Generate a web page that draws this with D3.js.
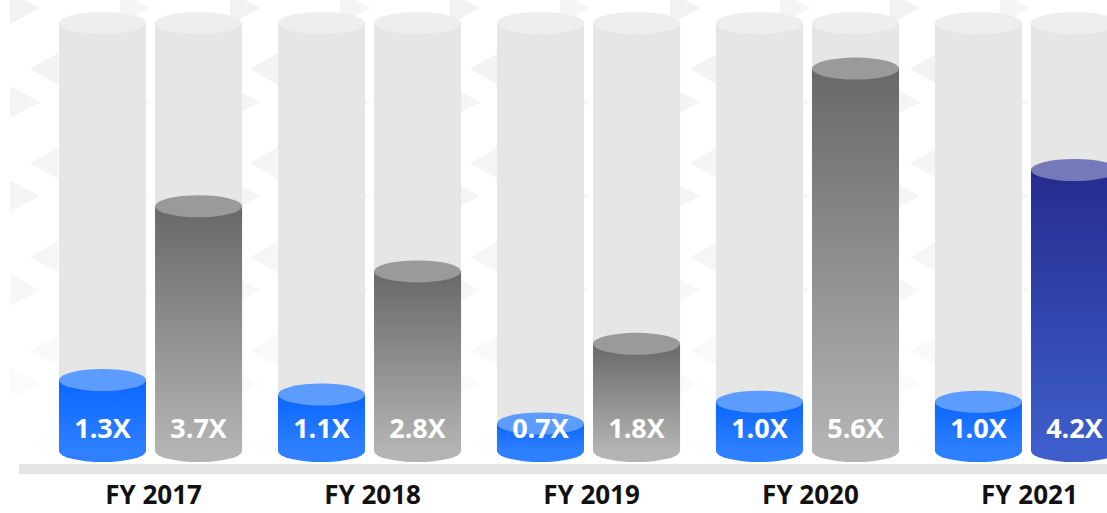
<!DOCTYPE html>
<html>
<head>
<meta charset="utf-8">
<script src="https://cdn.jsdelivr.net/npm/d3@7.9.0/dist/d3.min.js"></script>
<style>
  html, body { margin: 0; padding: 0; background: #fff; }
  svg { display: block; font-family: 'Open Sans', sans-serif; }
</style>
</head>
<body>
<div id="chart"></div>
<script>
// Data
const years = ['FY 2017', 'FY 2018', 'FY 2019', 'FY 2020', 'FY 2021'];
const coverageA = [1.3, 1.1, 0.7, 1.0, 1.0];   // blue cylinders
const coverageB = [3.7, 2.8, 1.8, 5.6, 4.2];   // gray cylinders (last one highlighted)
const series = ['a', 'b'];

const width = 1107;
const height = 513;
const baseY = 451;     // centre of bottom ellipse
const topY = 23;       // centre of top ellipse of the empty tubes
const ry = 11;

const svg = d3.select('#chart').append('svg')
  .attr('width', width)
  .attr('height', height);

const defs = svg.append('defs');

// faint background chevron pattern
const pat = defs.append('pattern')
  .attr('id', 'chev')
  .attr('patternUnits', 'userSpaceOnUse')
  .attr('width', 220).attr('height', 94)
  .attr('x', -4).attr('y', -88);
pat.append('path').attr('d', 'M14,80 L44,96 L14,112 Z M14,-14 L44,2 L14,18 Z').attr('fill', '#f2f2f2');
pat.append('path').attr('d', 'M62,47 L34,63 L62,79 Z M62,-47 L34,-31 L62,-15 Z').attr('fill', '#f2f2f2');
pat.append('path').attr('d', 'M124,80 L154,96 L124,112 Z M124,-14 L154,2 L124,18 Z').attr('fill', '#f5f5f5');

const fade = defs.append('linearGradient').attr('id', 'fadeGrad')
  .attr('x1', 0).attr('y1', 0).attr('x2', 0).attr('y2', 1);
fade.append('stop').attr('offset', 0).attr('stop-color', '#fff');
fade.append('stop').attr('offset', 0.6).attr('stop-color', '#999');
fade.append('stop').attr('offset', 0.9).attr('stop-color', '#000');
defs.append('mask').attr('id', 'fadeMask')
  .append('rect').attr('width', width).attr('height', height).attr('fill', 'url(#fadeGrad)');

svg.append('rect')
  .attr('width', width).attr('height', height)
  .attr('fill', 'url(#chev)')
  .attr('mask', 'url(#fadeMask)');

// gradients for the cylinders
function vGrad(id, top, bottom) {
  const g = defs.append('linearGradient').attr('id', id)
    .attr('x1', 0).attr('y1', 0).attr('x2', 0).attr('y2', 1);
  g.append('stop').attr('offset', 0).attr('stop-color', top);
  g.append('stop').attr('offset', 1).attr('stop-color', bottom);
}
vGrad('blueBody', '#0a66ff', '#2e80ff');
vGrad('grayBody', '#686868', '#b4b4b4');
vGrad('navyBody', '#262b8e', '#3d5ecb');

const styles = {
  a: { body: 'url(#blueBody)', top: '#5c9cff', bottom: '#2e80ff' },
  b: { body: 'url(#grayBody)', top: '#9a9a9a', bottom: '#b4b4b4' },
  hi: { body: 'url(#navyBody)', top: '#7579ba', bottom: '#3d5ecb' }
};

// scales
const x0 = d3.scaleBand()
  .domain(years)
  .range([59, 1118])
  .paddingInner(0.164)
  .paddingOuter(0);

const x1 = d3.scaleBand()
  .domain(series)
  .range([0, x0.bandwidth()])
  .paddingInner(0.094);

const y = d3.scaleLinear()
  .domain([0.32, 6.23])
  .range([baseY, topY]);

const rows = years.map((year, i) => ({
  year,
  bars: [
    { key: 'a', value: coverageA[i], style: styles.a },
    { key: 'b', value: coverageB[i], style: i === years.length - 1 ? styles.hi : styles.b }
  ]
}));

// platform
svg.append('rect')
  .attr('x', 19).attr('y', 464)
  .attr('width', width - 19).attr('height', 10)
  .attr('fill', '#e4e4e4');

const groups = svg.selectAll('g.year')
  .data(rows)
  .join('g')
  .attr('class', 'year')
  .attr('transform', d => `translate(${x0(d.year)},0)`);

const bars = groups.selectAll('g.bar')
  .data(d => d.bars)
  .join('g')
  .attr('class', 'bar')
  .attr('transform', d => `translate(${x1(d.key)},0)`);

const w = x1.bandwidth();
const yMax = y.domain()[1];

// empty tube
bars.append('rect')
  .attr('x', 0).attr('width', w)
  .attr('y', y(yMax)).attr('height', baseY - y(yMax))
  .attr('fill', '#e6e6e6');
bars.append('ellipse')
  .attr('cx', w / 2).attr('cy', y(yMax))
  .attr('rx', w / 2).attr('ry', ry)
  .attr('fill', '#eeeeee');

// filled cylinder
bars.append('ellipse')
  .attr('cx', w / 2).attr('cy', baseY)
  .attr('rx', w / 2).attr('ry', ry)
  .attr('fill', d => d.style.bottom);
bars.append('rect')
  .attr('x', 0).attr('width', w)
  .attr('y', d => y(d.value)).attr('height', d => baseY - y(d.value))
  .attr('fill', d => d.style.body);
bars.append('ellipse')
  .attr('cx', w / 2).attr('cy', d => y(d.value))
  .attr('rx', w / 2).attr('ry', ry)
  .attr('fill', d => d.style.top);

// value labels
bars.append('text')
  .attr('x', w / 2).attr('y', 438)
  .attr('text-anchor', 'middle')
  .attr('fill', '#fff')
  .attr('font-size', 27)
  .attr('font-weight', 700)
  .text(d => d3.format('.1f')(d.value) + 'X');

// category labels
groups.append('text')
  .attr('x', x0.bandwidth() / 2 + 3)
  .attr('y', 504)
  .attr('text-anchor', 'middle')
  .attr('fill', '#111')
  .attr('font-size', 26)
  .attr('font-weight', 700)
  .text(d => d.year);
</script>
</body>
</html>
